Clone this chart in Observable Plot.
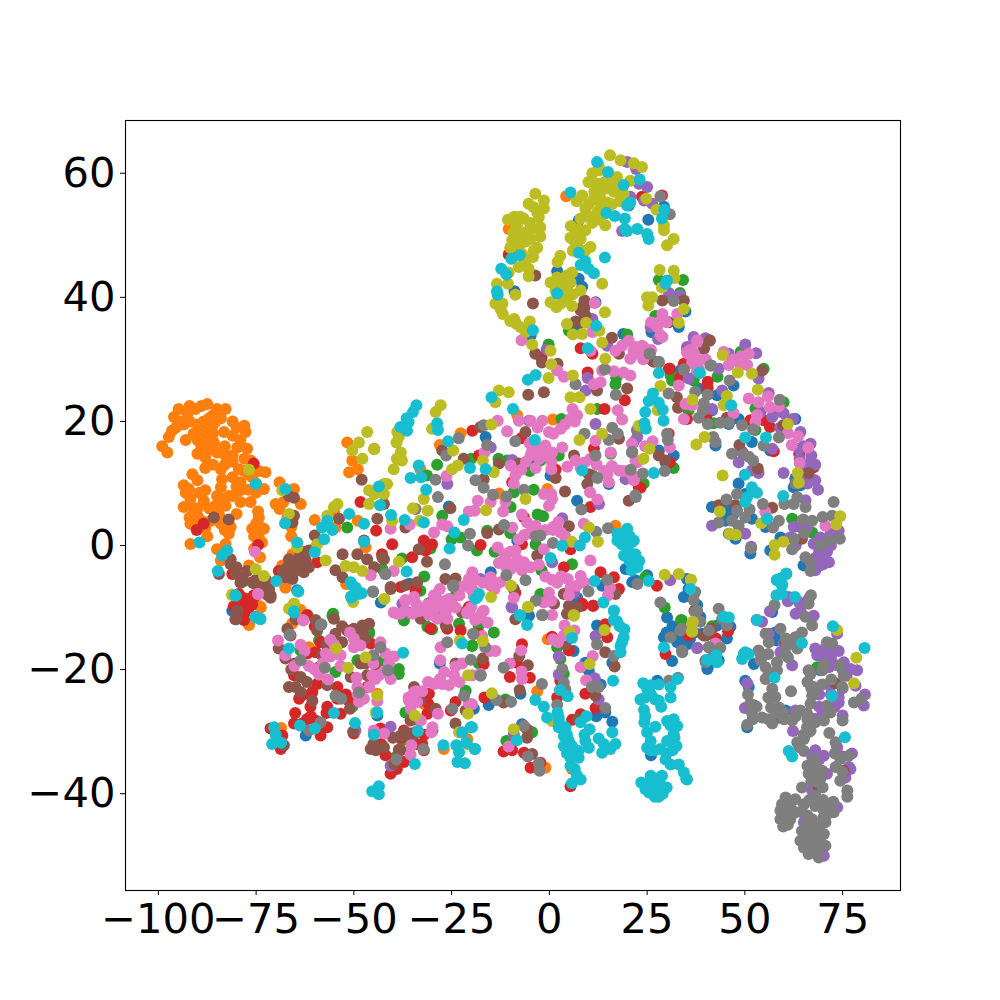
<!DOCTYPE html>
<html>
<head>
<meta charset="utf-8">
<script src="https://cdn.jsdelivr.net/npm/d3@7"></script>
<script src="https://cdn.jsdelivr.net/npm/@observablehq/plot@0.6"></script>
<style>html,body{margin:0;padding:0;background:#fff}svg{display:block}</style>
</head>
<body>
<div id="chart"></div>
<script>
const classNames = ["c0","c1","c2","c3","c4","c5","c6","c7","c8","c9"];
const palette = ["#1f77b4","#ff7f0e","#2ca02c","#d62728","#9467bd","#8c564b","#e377c2","#7f7f7f","#bcbd22","#17becf"];
const xTicks = [-100,-75,-50,-25,0,25,50,75];
const yTicks = [-40,-20,0,20,40,60];

const c0 = [[25.3,52.5],[7.5,52.4],[2,44.2],[7.5,43],[8.4,41.7],[-8.9,41],[11.8,39.2],[34.8,37.7],[33.1,35.2],[26.1,34.4],[29.3,54.6],[20.3,54.8],[18.9,34.1],[-4.8,33.8],[7.1,35.2],
[-4.8,13.4],[.3,11.3],[15.2,9.9],[7.1,7.2],[-8.2,.8],[19.5,-3.8],[21.2,-5.9],[13.5,-6.5],[7.1,-8.4],[-15,-4.3],[-36,-6.2],[-5.2,-11.3],[-25.7,6.3],[-16.3,17.5],
[-62.3,-30.6],[-28,-19],[-44,-27.4],[-19.3,-26.3],[-35.5,-6.2],
[-7,-28.8],[-15.5,-25.7],[-7.4,-23.9],[12.2,-12.9],[16.1,-28.4],[12,-27.5],[14.3,-26.9],[10.1,-20.2],[9.2,-18.9],[16.1,-18.9],[6.2,-17],[30.1,-11.6],[26,-33.8],[27.6,-21.8],[31.4,-18.6],[29.3,-14.8],[35.2,-15.9],[32.7,-15.6],[40.4,-19.9],[13.1,-22.4],
[33.5,28.2],[38.2,25.3],[42.9,24.2],[41.6,21.8],[47.1,25.8],[45.9,19.6],[48.4,20.4],[42.5,16.1],[51.8,16.7],[56.5,15.3],[31.8,14.5],[28,15.3],[29.7,13.4],[62.9,20.4],[62.9,10.8],[62.5,9.4],[64.2,9.7],[48.4,10],[50.1,8.3],[41.6,6.2],[45.4,5.4],[45.9,1.9],[47.6,1.1],[51.8,4.3],[51.4,-1.3],[55.3,3],[56.5,-.8],[65,-3.2],[59.1,1.3],[25,-4.8],[35.2,-5.4],[22,-5.6],
[57,-10.7],[57.8,-14],[58.2,-15.3],[52.3,-19.1],[54.8,-17.7],[51,-22.8],[50.1,-21.8],[50.6,-29.3],[52.4,-25.8],[58.7,-27.7],[60.4,-26.6],[68.9,-41.7],[69.3,-20.1],[40.5,-19.6],[45.4,-15],[46.3,-13.1],[42.9,-12.9],[39,-14.2],[37.8,-9.6],[38.6,-11.5],[34.4,-15.6],[34.4,-8.3],[35.6,-7],[43.3,-18.5],
[-64.5,-7.2],[-81.1,-10.5],[-43.1,-9.2],[44,6],[46,6],[47,5],[45,4],[30,-14],[31.5,-13],[33,-14.5],[36,-15],[37,-14]];

const c1 = [[-99,16],[-97.7,15],[-97.3,17.5],[-96,20.7],[-94.8,22],[-92.6,21.2],[-90.5,22],[-87.5,22.8],[-85,22],[-82.8,22],[-85.4,20],[-83.2,18.3],[-81,20],[-78,19.3],[-77.7,18.3],[-81,17.7],[-79.8,15.8],[-77.3,15.6],[-88,14.2],[-90,14.8],[-88.4,17],[-85.8,16.6],[-82.8,14.5],[-84,12.3],[-79.4,12.3],[-76.4,13.7],[-74.3,12],[-72.6,11.8],[-79,10.2],[-79,8.9],[-76.4,7],[-79,7],[-73,9.1],[-83.7,10.7],[-84,9.4],[-83.7,7.5],[-85.4,6.4],[-82.8,6.4],[-80,5.1],[-93.5,9.7],[-91.3,11.5],[-90,10.5],[-92.2,9.1],[-88,8.9],[-88.4,7.2],[-91.8,7.5],[-93.5,6.2],[-90,4.8],[-91.8,3.5],[-91.8,.25],[-88,2.9],[-84,3.5],[-82,1.9],[-82.8,.25],[-85,-.6],[-84,-2.4],[-74.3,4.5],[-73,2.7],[-76,2.7],[-74.3,1.3],[-74,-1.9],[-76.8,-3.2],[-93,17],[-93.5,19.5],[-90,19.5],[-94.8,20],[-88.4,20],[-87,20.5],[-90,17],[-86,18],[-92,20],[-88,12.5],[-81,13.5],[-77,11.5],[-75,10],[-90,6],[-86.5,4],[-75,3.5],[-82,8],
[-69,10.2],[-70,6.7],[-69,5.9],[-65.3,9.1],[-63.6,6.7],[-66,3],[-60,4.1],[-55,5.4],[-49,4],[-51.7,16.6],[-50.4,13.7],[-51.2,11.8],[-49,12.3],[-44.8,15.6],[-67.5,-6.7],[-76.8,-12.7],[-73.8,-10],[-68.3,-3.2],[-65.7,-1.4],[-54.7,2.9],[-52,-6.2],[-47,-.3],
[4.3,56.3],[-10.4,51],[-9.5,47.8],
[.9,20.3],[-8.2,21],[-22.7,18.1],[-28,16.2],[-33,12.3],[-12.9,8.4],[-.5,9.1],[16.9,3.2],
[-67.5,-6.8],[-76.8,-12.8],[-74,-9.8],[-63.6,-10.4],[-65.8,-12.6],[-68.6,-29.4],[-27,-32.8],[-32.2,-25.5],[-21,-31.2],[-44,-23.9],[-61.5,-16.4],
[-.4,-15.1],[-3.1,-23.5],[-1,-35.8],[5.8,-36],
[-96.5,18.5],[-95.5,19],[-92,22.5],[-89,22.5],[-86,21],[-84,20.5],[-91,18],[-88.5,18.5],[-86,19.5],[-83,16],[-80,19],[-79,17],[-85,15],[-87,15.5],[-89,16],[-81,14.5],[-78,14],[-83,13],[-86,13],[-78,12],[-76,11],[-81,11],[-80,9.5],[-77,9],[-75,8.5],[-81,8],[-85,8],[-84.5,5],[-81.5,3],[-83,2.5],[-87,6],[-89.5,8.5],[-93,8.5],[-91,6],[-92,4.5],[-89,4],[-87.5,1.5],[-83,-1.5],[-74,3],[-75.5,1.5],[-73.5,.5],[-75.5,-.5],[-74.5,5.5],[-68,7],[-67,4.5],[-66,1.5]];

const c2 = [[28,42.8],[34.2,42.8],[19.9,34],[-.2,32.4],[27.1,37],[33.4,40.7],[5,34.6],[17.1,27],[31,27.4],[37,27.1],
[-28.7,13],[16.9,26],[3.1,20.4],[12.2,22],[-1.6,4.7],[-27.4,4.8],[-22.7,1.3],[-18.5,-.8],[-37.7,-2.1],[-30.4,-.5],[-31.3,11.3],[-2.3,13.7],[2.4,14.5],[-9.1,8.6],[-9.9,6.2],[-10.8,13.7],[5.8,-3],[-3.5,.2],[-15.9,2.4],[11,11.3],[15.7,14.8],[-24,-8.1],[-33,-7.3],[-2.3,-7.8],
[-55.3,-11],[-46.1,-13.9],[-58.9,-15.3],[-63.6,-16.9],[-54.7,-20.4],[-49.1,-18.5],[-38.5,-19.9],[-38.5,-20.7],[-42.3,-18.5],[-50.4,-26],[-36.8,-26.9],[-31.2,-13.1],[-23.1,-12.6],[-19.7,-16.1],[-29.9,-29.8],[-37.2,-12.1],[-21.4,-23.4],[-39.3,-34.1],[-37.6,-31.4],[-59.4,-29.5],[-18,-19],[-28.7,-10.2],[-78.8,-5.9],
[-14.2,-14],[-19.8,-16.2],[-11,-31.5],[33.7,-12],[2,-16.4],[2.8,-18.3],[-11.2,-24.8],[-18.1,-12.9],[3.7,-20.7],[-4.4,-30.1],[29.5,-10],
[31.4,26.6],[36.9,26.6],[43,27.2],[48.9,31.2],[52.7,22.1],[59.9,23.1],[52.7,18.6],[31.8,12.5],[42,19.7],[24.1,10],[62.1,4.3],[67.2,2.1],[24.5,-5.1],[54.8,28.5],[35.6,21.8],
[33.9,-12.1],[41.6,-13],[68.5,-19.6],
[-51.7,2.9],[-78.5,-5.9],[-42.7,-3.8],[-65.3,-4.3],[-55.5,-11.3],[-46.1,-14.2],[-5,12],[-13,14],[-20,14],[-3,5],[-4,9],[-10,2],[-25,1],[-14,-1],[-32,-5],[-2,-4],[-30,-13.5]];

const c3 = [[-10.4,46.9],[8,31.8],[11,30.9],[28.8,56.4],[23.7,56.2],[30.6,28.5],[9.8,27.9],[33.4,27],[-2,30.3],
[19.3,23.4],[14.1,22],[-19.7,18.5],[-7.2,17.3],[11.4,15.6],[-18,14.5],[1.6,12.2],[-9.5,10.2],[10.5,6.2],[22.9,9.4],[-40.2,.2],[-32.1,.8],[-30,.2],[-31.7,-.8],[-35.1,-1.9],[-17.6,.1],[-6.5,4.5],[-7,.2],[5.4,-.6],[-34.2,-7.3],[-19.7,-7.2],[-8.7,-7.6],[3.7,-3.5],[13.1,-4.3],[8.4,-9.4],[11.2,-9.7],[17.8,-7],[16.5,-5.1],[-42.8,-1.4],
[-79.4,-9.6],[-77.7,-10.4],[-80.7,-9.8],[-75.6,-8],[-78.1,-12],[-61.9,-11.2],[-58.5,-15.6],[-66.2,-14.5],[-59.8,-17.2],[-61.9,-17.4],[-65.3,-20.9],[-64,-24.7],[-61.1,-26],[-60.6,-23.6],[-59.4,-22.3],[-56.8,-26],[-54.2,-22.8],[-54.2,-24.7],[-53.4,-27.1],[-51.3,-25],[-45.7,-15.8],[-51.7,-13.7],[-65.3,-28.7],[-63.2,-28.7],[-59.8,-28.2],[-56.8,-29.3],[-58.5,-30.6],[-68.3,-30.6],[-71.3,-29.5],[-68.7,-32.8],[-40.6,-36.8],[-41.9,-33.8],[-37.2,-34.9],[-32.5,-32],[-37.2,-29.8],[-43.2,-29.5],[-50,-30.3],[-35.5,-30.3],[-30.8,-23.9],[-31.2,-27.1],[-25.2,-26.6],[-22.7,-13.7],[-30.4,-13.4],[-26.1,-13.4],[-20.6,-9.9],[-24,-25.2],[-34.2,-7],[-38,-6.7],[-18,-14.2],[-46.6,-22.8],[-32.1,-33],
[-7,-15.9],[-10.1,-21.2],[-5,-21.3],[-16.6,-24.5],[-8.3,-18.9],[5,-16.9],[2.8,-21.8],[9.2,-23.9],[11.8,-26.2],[14.3,-12.7],[14.8,-14.8],[.7,-14.7],[8,-27.2],[5.8,-28.1],[5.4,-38.8],[-11.7,-33.2],[-9.5,-33],[-6.5,-33.4],[-4.8,-35.8],[-2.3,-35],[29.7,-17.5],[-16.8,-19.1],[11.2,-9.7],[8.4,-9.7],[2,-24.5],
[30.8,28.5],[40.5,26.4],[40.5,25.4],[40.2,21],[51.4,20.2],[54.8,20.2],[56.4,19.1],[57.4,15.2],[63.9,14.8],[67.6,12.6],[30.5,18],[30.8,13.4],[23.3,9.3],[27.5,-6.5],[35.2,20.4],[34.4,29.3],
[45.7,-13.8],[42.6,-15],[35.6,-14.5],
[-75.6,13.2],[-88.4,3.5],[-90.2,2.5],[-74.5,.1],[-48.3,7],[-44.3,2.4],[-79.4,-7.8],[-76.8,-10],[-79,-8.9],[-75.1,-8.1],[-81.1,-4.6],[-69.2,-4.1],[-59.4,-2.7],
[-78,-11],[-79,-11],[-76,-9.5],[-78,-8.5],[-60,-13],[-63,-24],[-61,-27.5],[-57,-27],[-52,-24],[-62,-28],[-65,-27],[-43,-32],[-39,-36],[-38,-31],[-34,-32],[-32,-30.5],[-34,-28],[-31,-25.5]];

const c4 = [[19.9,61.8],[22.2,60.7],[25,57.8],[22.9,58.3],[24.2,55.6],[26.3,55.1],[20.7,56.2],[18.6,50.7],[11,36.5],[30.6,40.7],[33.4,40.3],[27.8,33.3],[25.9,35.2],[37,33.2],[39.8,33.2],[35.2,31.7],[-.7,31.6],[14.8,32.2],[9.8,27],[45.9,30.9],
[-9.5,13.8],[-26.1,9.9],[-15,15.8],[19.5,10.7],[11.8,19.6],[3.3,4.4],[.7,-2.7],[-17.6,-5.4],[6.3,-7.6],[-9.5,-10],[-36.4,-10.8],[9.3,25],[12.7,6.7],[22.5,17.5],[-5.2,20.1],
[-40.6,-29.2],[-40.6,-35.5],[-37.6,-9.4],[-36.3,-10.7],[-49.6,-29.8],
[-9.7,-9.9],[2.4,-17.9],[2.4,-20.8],[11.6,-21.4],[12.6,-24.8],[-9.1,-30.4],[11.8,-14.6],[37.8,-16.5],
[35.6,26.9],[36.9,33.6],[39.9,33.4],[35.2,32],[43.3,28.5],[50.1,32.4],[52.9,31],[53.5,26.9],[41.6,22],[44.2,25],[56.1,24.6],[59.9,21.3],[57,20.7],[62.3,20.4],[64.2,18.3],[66.8,16.4],[63.8,15.6],[66.8,13.4],[65.5,12.1],[68,10.5],[68.7,9],[59.9,11.7],[48.4,13.4],[49.3,15.1],[53.5,11.7],[51.8,12.1],[41.6,3.2],[50.1,1.9],[51.6,-.2],[62.5,3],[61.6,1.3],[64.2,3],[67.6,.3],[69.3,1.3],[71.9,1.9],[74,2.4],[70.2,-1.9],[71.5,-2.7],[69.3,-3.2],[65.5,7.3],[21.6,16.7],[22.4,18.6],[57,15.6],[68,-4],[30.9,-5.6],
[56.4,-10.6],[54.4,-12.3],[56.1,-14.2],[61.2,-8.3],[63.8,-9.1],[64.2,-10.5],[66.3,-8.6],[67.6,-11.3],[73.6,-14.2],[68,-16.6],[73.2,-16.9],[70.6,-16.6],[68.5,-17.7],[59.1,-17.2],[62.1,-19.3],[78.7,-20.1],[75.3,-18.8],[77,-19.9],[71.5,-19.6],[73.6,-19.3],[78.3,-22.6],[80.7,-24],[80.4,-25.8],[67.6,-22.8],[74,-24.4],[74,-25.3],[71.9,-22.6],[50.6,-22.2],[62.9,-26.6],[50,-26.2],[67.6,-27.9],[69.8,-27.1],[62.3,-29.9],[66.8,-29.8],[75,-27.4],[73.6,-32.5],[77.4,-33.5],[67.2,-34.1],[70.2,-33.9],[76.6,-35.7],[75.7,-37.4],[71,-36.8],[67.2,-39.5],[73.6,-42.2],[65.1,-44.6],[70.2,-50],[37.8,-16.5],[42,-17.2],[60,-15.8],
[69,-1],[70,-3],[71,-1],[68,-2],[66,3],[63,0],[72,0],[54,21.5],[58,21.5],[59,19],[66,11],[65,16],[67,14.5],[68,13],[64,14],[66,10],[74,-17],[72,-18],[75,-20],[70,-18],[76,-21],[75,-23],[72,-24],[69,-24],[69,-26],[73,-26],[53,-12],[61,-9],[63,-11],[68,-33],[69,-34.5],[75,-34],[77,-36]];

const c5 = [[-3.6,43.5],[-4.2,39],[9,39.5],[9,38.4],[8,37.9],[9.2,37.1],[6.7,36.1],[34.4,39.5],[30.6,36],[28.9,39.5],[16,33.5],[41,33],[-3.6,30.9],[-1.9,29.5],[2.1,29.3],[26.3,29.8],[17.8,30.9],[39.5,31.7],
[-5.4,24.3],[-1.4,24.7],[12.2,25],[19.9,25.3],[-17.6,19.1],[-6.1,18.3],[-27.4,15.3],[17.8,17.2],[6.3,14.5],[10.1,11.5],[9.7,9.9],[-12.9,13.2],[-7.8,13.2],[-21.9,14],[-16.8,10.7],[1.6,10.9],[4,8.7],[20.3,7.2],[-25.3,6],[-36.8,2.9],[-12.9,2.6],[-15.9,2],[-31.3,-2.6],[-33.4,-.6],[-33.8,-5.9],[-40.6,-7],[-24,-5.3],[-26.6,-5.4],[5,3.1],[-3.1,-1.6],[3.7,-7.8],[7.1,-10],[16.9,-7.8],[-30.8,-9.3],[-22.3,-10.8],[1.2,-9.4],[-42.3,-2.2],[-9.1,-7],
[-75.6,-6.1],[-71.3,-8],[-79.8,-10.7],[-80.3,-11.9],[-67,-13.4],[-69.2,-16.6],[-59.8,-12],[-59.4,-13.7],[-55.1,-11.8],[-54.7,-14.2],[-67.5,-18.2],[-50,-13.4],[-47.8,-12.9],[-46.1,-12.6],[-47.8,-13.9],[-53,-15.6],[-58.1,-17.7],[-58.9,-19.6],[-63.6,-21.2],[-66.6,-22.8],[-64.9,-22.8],[-63.6,-23.6],[-60.6,-25],[-56.8,-22.5],[-48.3,-19],[-46.6,-20.9],[-44.4,-19.3],[-50.8,-21.2],[-51,-26.3],[-50.2,-30],[-45.7,-32.8],[-44.4,-33],[-42.3,-32.5],[-38.5,-32.9],[-39.7,-35.2],[-38,-30.6],[-35,-30.9],[-35.5,-28.2],[-29.1,-26.3],[-67.9,-32.2],[-34.6,-22.8],[-30.8,-9.4],[-32.9,-11.8],[-26.5,-12.9],[-24,-19],[-21.4,-26.6],[-24,-28.7],[-40.6,-6.7],[-36.8,-6.4],[-72.2,-6.9],
[-7.6,-23.3],[-5.5,-19.3],[-7.7,-17.8],[-17,-18.2],[-11.7,-25.3],[4.1,-15.9],[7.3,-28],[11.8,-24.2],[16.7,-19.5],[14.3,-17.2],[-4.4,-33.6],[-5.7,-31],[-5.7,-29.6],[40,-14.5],[5,-9.7],[4.5,-11],[-8.7,-11.9],[37.1,-10.5],
[41,33.1],[39.5,31.7],[47.6,29.9],[54.4,28.2],[32.6,23.9],[32.9,22.2],[45.4,20.6],[48.6,16.2],[53.3,12.4],[66.3,11.7],[59.8,19.4],[28,14.5],[29.7,13.7],[43.3,6.5],[47.6,6.5],[57,6.1],[64.6,1.1],[26.7,29.6],
[73.2,-22.2],[68.9,-38.9],[60.4,-15.6],[37.3,-10.5],[41.6,-13.4],[39.5,-14.5],[75.3,-36.3],
[-85.8,4.5],[-82,4.2],[-48,10.6],[-66.6,8],[-65.3,7.7],[-65.3,4.8],[-65.7,3.7],[-60,1.6],[-81.5,-2.2],[-81.5,-3],[-80.2,-4.6],[-84.5,-4.6],[-78.5,-5.1],[-77.3,-4.1],[-76,-5.9],[-73.4,-6.2],[-71.7,-7],[-71.3,-8.4],[-68.3,-4.1],[-66.6,-2.2],[-64,-1.9],[-61.5,-.8],[-62.3,-2.4],[-64.5,-3.3],[-67.5,-5.1],[-65.7,-5.4],[-62.8,-4.3],[-53.8,4.3],[-52.9,-1.4],[-54.7,-4],[-49.1,-1.4],[-46.6,-2.2],[-52.9,-5.1],[-79.8,-10.5],[-80.1,-11.9],[-44,4.3],[-42.3,6.7],[-47.4,.8],[-42.7,-1.9],[-44.8,-3.5],[-64.9,-11.9],
[-66,-3],[-65,-4],[-63,-3],[-61.5,-3.5],[-63,-1],[-60,-.5],[-67,-3.5],[-80,-3.5],[-79,-6],[-75,-5.5],[-72.5,-5.5],[-72,-8],[-66,-20],[-65,-19],[-62,-22],[-57,-16],[-53,-13],[-49,-14.5],[-47,-15],[-47,-19],[-45,-18],[-45,-32],[-38,-33],[-37,-30],[-40,-31],[-33,-25],[-34,-30],[8.5,38.5],[8,36],[9,36.5]];

const c6 = [[11.6,39.1],[-7.1,33.1],[20.3,33],[28.9,37.3],[32.7,37.3],[27.6,35.2],[28.9,33.6],[11,34.4],[10.5,31.4],[16.9,31.4],[18.6,32.2],[21.6,31.4],[23.7,32.2],[20.7,30.1],[35.2,31.1],[37.8,32.8],[36.5,29.5],[37.8,28.2],[44.6,31.1],[16.5,28.1],[19,27.9],[20.7,27.4],[13.5,28.2],[2,28.2],[3.7,27.2],
[-7.8,20.1],[-4.8,20.1],[-1.8,20.1],[2.9,18.8],[5.4,20.4],[7.1,21],[5.9,22],[13.1,26.3],[11.4,26],[18.6,20.3],[17.5,21.8],[-10.8,18.4],[-13.2,20.1],[-.1,18.3],[-1,16.1],[-4.4,15.3],[-2.7,15.8],[.7,15],[3.3,15.8],[-4.8,14.5],[11.8,16.9],[15.7,15],[6.7,13.7],[9,13.4],[4.6,12.7],[12.1,13],[-3.5,12.5],[.5,12.3],[22.5,13.4],[17.8,12.1],[14.8,11.5],[15.2,10.2],[10.4,8.6],[12.3,7.4],[-7.2,12.2],[-9.9,12.9],[-8.7,11.3],[-9.1,10],[-26.3,11.2],[-16.6,15],[-18.3,7.2],[-19.1,5.6],[-20.6,5.5],[-15,7],[-11.8,5.5],[-11.2,7],[-1.4,8.3],[.5,8.3],[-.1,6.4],[.7,7.5],[8.8,3.5],[2.3,3.8],[-5.7,3.7],[-3.5,3.2],[-6.4,1.7],[-1.4,-.6],[2.9,2.1],[-27.4,3.4],[-26.1,3.1],[-35.7,3.4],[-29.5,2.1],[-40.6,2.7],[-9.5,2.9],[-13.2,-.3],[-11.5,-1.4],[-8.7,-.8],[-8.2,-2.2],[-12.9,-2.8],[-9.9,-3.8],[-6.5,-2.7],[-4.8,-3.5],[-2.7,-3.1],[10.5,-2.4],[.7,-5.5],[4.7,-5.4],[8,-4.9],[5.4,-6.8],[15.5,-6.8],[-19.7,-4.3],[-20.6,-5.4],[-15,-5.1],[-15,-6.5],[-12.5,-5.9],[-21.4,-6.5],[-.1,-7.6],[.5,-8.9],[-1.4,-9.2],[-9.1,-8.4],[-29.1,-8.1],[-29.5,-9.4],[-26.6,-9.3],[-33.4,-10.6],[-34.7,-8.4],[-36.8,-8.9],[-39.8,-4.1],[-39.8,-10.8],[-38.1,-11],[-21,-10.9],[-16.8,-10.5],[-26.6,-10.8],[-17.6,-11.6],
[-74.5,-7.8],[-63,-12],[-69.4,-15.3],[-63.6,-16],[-62.6,-17],[-67.5,-17.7],[-65.2,-19.4],[-61.5,-19.4],[-58.9,-20.8],[-56.6,-21.6],[-57.2,-17.4],[-56,-17.9],[-53.4,-17.7],[-53.4,-19.4],[-56,-15.2],[-51,-14],[-50,-16.4],[-48.3,-16.1],[-41.9,-17.4],[-39.7,-17.9],[-43.2,-15.6],[-45.3,-20.9],[-43.6,-20.9],[-40.6,-21.5],[-42.3,-20.4],[-49.3,-21.3],[-49.1,-22.8],[-46.1,-22.8],[-47.4,-24.7],[-48.7,-25.2],[-44,-25.1],[-44.9,-29.8],[-42.3,-30.3],[-35.3,-32.2],[-35.5,-33.7],[-35.9,-25],[-33.8,-25.2],[-34.6,-23.6],[-32.5,-23.5],[-35.5,-26.3],[-32.9,-28.2],[-29.9,-29.3],[-30.2,-30.1],[-28.5,-27.1],[-29.5,-22.3],[-27.4,-22.3],[-25.7,-22.5],[-26.9,-20.4],[-24.4,-20.9],[-22.3,-19],[-20.6,-25.5],[-19.7,-20.9],[-27.8,-16.4],[-27.9,-18.5],[-33.3,-10.5],[-36.8,-8.8],[-34.6,-8.3],[-38.9,-11],[-30.8,-11.2],[-28.7,-11.8],[-26.1,-11.8],[-29.5,-8],[-28.7,-9.4],[-25.7,-8.6],[-22.3,-6.6],[-21,-10.7],[-19.3,-8.3],[-26.5,-10.7],
[-17,-10.6],[-18.5,-11.6],[-15.8,-12.4],[-15.1,-17],[-17.2,-14.6],[-13.8,-17],[-17.6,-20.7],[-19.8,-25.6],[-10.1,-19],[-7.2,-16.9],[-7.1,-20.3],[-7,-21.5],[-10.4,-32.4],[.9,-15.1],[3.9,-12.9],[6.4,-13.7],[3.7,-14.5],[2.2,-15.6],[8,-19.6],[11.1,-17.8],[9.4,-21.7],[.7,-11.2],
[37.8,33.1],[35.4,30.9],[36.9,29.3],[38.2,28.5],[44.6,31.2],[45.9,29.1],[48.9,29.1],[51,30.9],[50.6,29.1],[33.1,25.8],[34.8,22.8],[36.5,22.6],[34.4,20.4],[47.1,21.3],[51,23.7],[53.5,23.1],[55.9,24],[56.4,22.3],[58.7,22.4],[53.1,21],[52.7,19.9],[61,18.1],[63.6,17.6],[62,16.2],[66.2,15.8],[64,13.3],[30.8,15.8],[26.4,16.8],[24.5,16],[22,13.7],[21.6,10.5],[21.1,16.4],[22.4,30.9],[24.1,32],[28.4,33.9],[21.6,31.5],[55.2,5.4],[70.6,3.2],
[42.5,-15.8],
[-75.3,-1],[-74.5,-7.8],[-62.9,-12.1],[-45.7,-4.8],
[-3,19],[1,18],[4,19.5],[6.5,20],[-2.5,14],[-1,14.5],[.5,13.5],[-6,13.5],[-5,16.5],[8,12.5],[10.5,14],[14,12],[16,12.8],[19,12],[21,11.5],[-7,5],[-5,2],[-7.8,1],[-3.5,2],[-1,2.5],[1,2.5],[1,3],[4,1.5],[-11,-2.5],[-10,-1],[-9,-3],[-7,-4],[-11,-3.5],[-20,-7],[-17,-6],[-14,-7],[-19,-5.5],[7,-6.5],[9,-6],[5,-8],[-29,-10],[-37,-10.5],[-35,-11],[-31,-9.5],[-24,-10],[-23,-8],[-28,-7],[-20,-10],[-19,-12],[-58,-19],[-60,-20],[-55,-16],[-50,-15],[-45,-19],[-44.5,-21.5],[-41,-19],[-49,-24],[-36,-24.5],[-34,-23.5],[-31,-22],[-28,-21.5],[-24,-19.5],[-23,-22],[40,30],[37,31],[36,31.5],[38,30],[47,30],[49,30.5],[24,30],[22,32],[26,31.5],[26,36],[28,36],[30,36],[2,-6],[-1,-5],[3,-5],[15,-8],[-34,-9.5],[-33,-10],[-27,-9],[-25,-9.5]];

const c7 = [[28.4,56.3],[30.8,53.4],[31.8,39.4],[25.7,30.9],[28,29.5],[14.2,28.4],[34.4,28.3],[41.4,29],
[6.7,26],[17,24.3],[-16.8,19.4],[-8.7,16.8],[-15.9,16.2],[-23.2,17.3],[-26.4,14.5],[9,18],[15.2,17],[16.1,19],[17.5,18],[11.8,14.5],[21.2,15.1],[22.5,18.5],[-29.1,10.6],[-18.9,10.5],[-16.8,9.3],[-28.5,7.8],[-14.4,8.2],[-11,7.9],[-6.5,9],[12.3,10.9],[20.8,12.2],[22.1,7.8],[8.2,5.8],[-34.2,5.9],[-11.6,3.3],[-20.3,1.9],[-20.8,0],[-3.5,1.5],[-2.3,1.6],[.9,.4],[12,2.2],[15,2.8],[-26.7,-3],[-41.9,-4.6],[-11,-4.8],[-6.1,-5.6],[-24.6,-6.6],[10,-7.4],[14.8,-5.5],[-3.5,-8.9],[-1.7,-11.2],[22.5,-6.2],
[-58.3,-12.7],[-66.4,-14.4],[-63.6,-18.5],[-57.4,-19.7],[-54.7,-24.2],[-53.2,-24.7],[-48.7,-23.7],[-45,-17.7],[-43.2,-16.4],[-41.3,-20.1],[-58.5,-28.5],[-61.5,-29.8],[-32.2,-32.8],[-39.1,-34.5],[-45.1,-7.5],[-24.6,-6.4],[-26.1,-15.6],[-19.5,-14.2],[-20.1,-18.4],[-17.6,-20.9],[-21.8,-24.2],[-24.8,-26.3],
[32.9,-21.3],[30.6,-21.8],[-1.9,-22.3],[2,-25.7],[3.3,-19.9],[3.7,-22.1],[4.1,-23.2],[10.9,-22.8],[12.6,-22.8],[14.3,-26.2],[16.5,-17.8],[12.2,-15.9],[-11.7,-19.7],[-17.6,-21],[-13.5,-24.9],[-9.8,-25.2],[-6.5,-29.1],[-5.5,-34],[-2.7,-35.1],[-2.5,-36.3],[31,-14.8],[34,-17.2],[-1.9,-11.2],[-19.4,-14.3],[28.4,-9.2],[37.8,-10.5],[40,-18.8],[40.8,-16.4],[-16.4,-16.4],[33.5,-13.7],
[34.4,28.4],[41.2,29],[46.1,26.6],[37.3,24.8],[40.5,24.3],[39.5,22.9],[39.3,21.8],[38.2,20.6],[40.5,19.6],[43.7,19.8],[45.9,19.8],[49.3,19.4],[52.1,18.7],[58.9,23.5],[41.9,17.5],[42.5,16.7],[46.7,14.8],[49.7,14.7],[51,14.3],[52.1,13.7],[54.8,16.1],[58.7,17.4],[62.9,10],[30.1,18],[30.3,17],[30.5,24.5],[28,29.6],[25.6,30.9],[21.1,15],[23.9,11.6],[29.5,12],[22,8.1],[45.3,7.4],[48,8.3],[54.6,6.7],[48,5.6],[51.2,5.8],[50.1,4.5],[46.7,4],[43.3,3.7],[48.4,3.2],[60.1,6.7],[62.5,6.7],[63.4,7.8],[65.5,6.2],[72.7,7],[72.3,4.8],[69.9,4.6],[64.9,4.2],[67.2,4],[58.7,4],[57.2,2.9],[65.2,2],[74.3,1.1],[71.5,.8],[62.5,1.1],[62.1,-.6],[69.3,0],[65.5,-1.9],[66.8,-2.7],[66.8,-4.1],[51.6,-.5],
[43.3,-10.2],[37.3,-7.5],[36.9,-8.8],[37.3,-10.7],[38.6,-12.3],[40.8,-13.7],[33.9,-13.4],[33.9,-16.9],[44.2,-11.8],[45.4,-12.9],[43.7,-16.5],[40.8,-16.4],[39.9,-18.5],[66.9,-8],[66.3,-9.4],[65.5,-11.5],[67.2,-12.9],[64.6,-14],[62.9,-14.8],[57.6,-9.6],[59.1,-13.4],[55.3,-14.2],[56.1,-15.6],[60.8,-16.1],[60.4,-17.5],[63.4,-16.6],[53.5,-16.9],[54,-18.5],[55.3,-19.6],[58.2,-18.8],[58.2,-20.1],[55.3,-21.5],[57,-23.1],[57.8,-24.4],[50.8,-24],[61.8,-23.5],[67.2,-24.2],[66.8,-25.5],[56.7,-26.1],[58.7,-26.1],[51.4,-25.5],[51.8,-26.9],[50.6,-28.9],[54.4,-27.7],[57,-28.7],[59.9,-26.9],[62.1,-28.2],[64.2,-26.6],[65.9,-27.1],[66.3,-20.1],[66.8,-20.7],[70.2,-19.1],[69.8,-20.1],[72.3,-15.8],[71,-15.6],[74.3,-19.4],[75.3,-21],[72.1,-21.6],[74.9,-22.8],[69.8,-22.4],[77.9,-25.3],[79.8,-24.7],[67.6,-23.9],[71,-25.8],[71.9,-26.9],[70.2,-28.2],[65.9,-29.3],[71.6,-30.2],[65.1,-31.2],[63.4,-31.7],[65.1,-33.1],[73.2,-31.7],[75,-28.2],[74.4,-34.4],[76.6,-33.9],[73.2,-35.7],[74.4,-37.9],[67.9,-34.4],[67.2,-36.3],[69.8,-36.3],[66.3,-36.8],[69.3,-37.6],[64.6,-39],[69.9,-39],[68,-40.3],[76.2,-39.5],[76.2,-40.5],[72.6,-41.3],[60.4,-40.6],[62.9,-40.9],[59.5,-41.7],[59.1,-42.7],[61.6,-42.2],[59.1,-44.1],[61.6,-44.1],[59.8,-45.3],[65.1,-41.7],[64.6,-43],[69.3,-41.9],[71,-43.3],[72.7,-43],[70.6,-44.6],[67.2,-44.1],[65.9,-44.9],[64.6,-46],[68.9,-45.4],[64.2,-47.6],[66.3,-46.8],[68.5,-47],[70.2,-46.5],[70.6,-48.4],[66.3,-49.7],[68.9,-50.3],[65.1,-48.7],[68.5,-48.7],[67.2,-48.1],
[-45.1,-7.4],[-58.5,-12.8],[-42,-4.6],[-66.4,-14.4],
[66,-46],[67,-47],[69,-46],[65,-47.5],[66,-48.5],[68,-49],[69.5,-48],[67.5,-45.5],[66,-43.5],[68,-42],[70,-42.5],[63,-43],[60.5,-43.5],[60,-42],[61,-41],[61,-45],[67,-38],[68,-38],[66,-35.5],[68,-35.5],[70,-41],[66.5,-41],[70,-44],[72,-42],[56,-24.5],[56,-21],[54,-17.5],[56,-17.5],[60.5,-15],[62,-15.5],[61,-18],[53,-26],[52,-28],[56,-28],[58,-27],[60,-28],[63,-27.5],[66,-28],[68,-28.5],[66.5,-30],[65,-30.5],[66,-22],[67,-23],[64,-32.5],[73,-33.5],[75,-36.5]];

const c8 = [[15.5,62.9],[18.2,62.1],[12.6,61.3],[11,60],[10,58.6],[12.2,58.3],[15.2,59.4],[17.3,59.4],[21.6,61.6],[23.7,61],[20.7,58.8],[14.3,57.5],[16.5,57],[19,56.7],[8.4,56.4],[11.4,55.9],[9.2,54.3],[12.2,53.7],[14.8,55.3],[8,52.7],[14.3,51.6],[6.7,50.8],[9.2,50.8],[5.4,49.6],[8,49.4],[7.1,48.6],[10.5,48.1],[9.2,47.5],[2.8,46.7],[2.1,45.7],
[-3.6,56.7],[-5.3,55.1],[-1.4,55.6],[-1.4,54.3],[-3.1,53.7],[-2.7,52.9],[-6.6,52.7],[-10.6,52.5],[-8.3,51.6],[-2.3,51.3],[-9.1,50.5],[-6.1,50.5],[-2.3,49.8],[-9.5,49.2],[-4.8,49.4],[-7.4,48.6],[-3.1,48],[-7,47],[-4.2,46.5],[-7.8,44.9],[-5.3,44.6],[-5.3,43.4],
[-10.4,44],[-13.4,42.2],[-10.6,42.2],[-8.7,40.4],[-13.8,39],[-12.5,38.1],[-11.9,37.3],[-10,36.2],[-7.4,35.2],[-6.1,34.4],[-5,36.1],[-4.4,32.4],[.3,31.4],[.5,29.2],[14.3,30.1],[6,27.4],[-.2,27],
[2,43.2],[.3,42.4],[3.7,42.7],[5.8,44],[5.4,42.4],[1.6,41.1],[4.5,41.4],[8,41.1],[.3,39.2],[1.8,38.4],[4.1,39.7],[5.8,38.6],[13.5,42.2],[14.2,37.6],[4.5,35.7],[9.4,35.9],[6,34],[8.4,34.1],[12.8,34.6],[13.5,32.7],
[24.8,55.9],[27.4,54.1],[29.3,51.6],[29.3,50.8],[31.8,49.4],[30.1,48.4],[28.2,44.4],[31.8,44.3],[28.8,41.6],[32,43.1],[26.3,40],[25,40],[25.3,38.7],[34.4,38.1],[33.1,35.9],
[-12.9,25],[-10.4,24.7],[-13.8,23.1],[-29.1,21.5],[-27.8,22.6],[-30,18.8],[-38.9,18.3],[-39.1,16.6],[-38,15],[-37.7,13.7],[-24.6,15.3],[-39.8,12.3],[-41.5,9.9],[-42.3,8.3],[-23.4,12.9],[-24.9,12.3],[-17,13.7],[-14.2,11.8],[-32.1,7.5],[-34.9,6],[-31.1,5.6],[-33.1,4],[-40.2,4],[-16.2,5.7],[-6.1,7.5],[-38.5,-2.6],[-42.2,-8.6],[-9.8,-6.5],[-14.9,-8.3],[10.1,2.9],[12.4,.6],[5.7,.6],[-5.4,-9.9],[6.3,-11.3],[5.4,23.9],[7.7,23.9],[10.5,22],[7.7,17],[13.5,18],[-14.8,19.5],[22.9,19.3],
[-65.3,-9.4],[-66.6,-10.2],[-81.1,-7.9],[-42.2,-8.6],[-50.2,-9.1],[-54.5,-16.6],[-47,-18],[-51.5,-19.7],[-44,-24.2],[-34.4,-27.4],[-20.8,-20.9],[-20.8,-27.1],[-44.4,-26.9],[-22.9,-15.3],[-21,-32],[-23.1,-30.1],
[-17,-15.4],[-14.7,-23.8],[-9.1,-29.6],[-5.5,-9.9],[.7,-28.3],[5.2,-13.9],[6.2,-11.2],[14.1,-13.6],[10.3,-19.1],[36.5,-12.6],[36.5,-13.9],
[44.3,30.7],[48.2,27.9],[51.8,27.7],[36.6,23.5],[45.4,24.1],[44.6,22.6],[28.4,25.7],[53.3,25.1],[61,19.6],[39.7,17.5],[37.6,16.3],[25.6,15.6],[24.1,14],[44.3,11.3],[63.5,11.7],[63.8,10.1],[43.6,5.5],[46.1,1.9],[47.7,1.7],[54.2,3.6],[73.4,3.4],[74.4,4.7],[59.8,.6],[57.6,.1],[57.6,-1.5],[29.5,-4.7],[33.1,-4.6],[36.2,-5.5],[27.7,21.8],
[73.6,-13.6],[78.5,-18.1],[77.9,-22.2],[36.2,-5.5],[36.7,-12.3],[36.5,-13.8],
[-76.8,12.2],[-68.3,8.9],[-66.6,5.1],[-64.5,-.3],[-59.4,.2],[-57.2,-2.4],[-75.1,-3.8],[-73,-4.9],[-66.2,-10.2],[-65.3,-9.4],[-81.1,-8],[-56.8,4.8],[-55.1,6.2],[-54.2,6.7],[-52.1,-3.3],[-50,-3.5],[-47.8,-4.1],[-50.4,15.3],[-48.7,16.6],[-46.6,18.3],[-44.8,15.5],[-47.8,14],[-42.3,9.9],[-46.1,8.9],[-46.1,6.7],[-44.8,8.3],[-43.1,8.9],
[13,60.5],[14,58.5],[16,58],[18,58],[11.5,57],[13,56],[10,55],[13,55],[16,55],[18,55.5],[7,55.5],[10,53],[11,52],[13,52.5],[5.5,51.5],[7.5,51],[6.5,49],[8.5,47.5],[6,47.5],[-4,54.5],[-5,52],[-7.5,53],[-9,53],[-4.5,51],[-6,49],[-8,50],[-10,48],[-4,47.5],[-6,46],[3,42],[2,42.5],[4.5,43.5],[3,40.5],[6,40.5],[3,39],[-12,39],[-9,36.5],[-8.5,35.8],[-39,14],[-38.5,17.5]];

const c9 = [[12.2,61.8],[15,60.2],[19,58.1],[23.1,59],[5.4,56.9],[19.9,54.8],[20.7,55.3],[14.6,53.6],[16.7,53.1],[19.3,52.7],[29.4,54.1],[28.8,52.7],[19.3,51],[19.9,50.7],[22.5,51],[25,50.2],[25.4,49.4],[14.2,46.4],[7.5,47.2],[9.2,45.8],[8,45.2],[11.4,43.9],[10,44.6],[-7.6,46.8],[-9.7,46.2],[-12.3,44.6],[-11,43.7],[-13.4,41],[-13.2,40.4],[2,40.6],[30.1,42.7],[29.7,42.2],[12,35.4],[-4.2,34.7],[9.8,31.8],[28,27.8],[38.5,27.8],[-3.5,27.5],[-5.5,26.7],
[-34,22.6],[-34.9,21.5],[-36,19.9],[-38.1,19.1],[-36.4,18.5],[-28.7,19.7],[-28.5,18.6],[-25.9,16.8],[-14.8,23.9],[-9.3,22],[-3.7,17],[-33.4,12.9],[-35.5,10.9],[-32.8,11],[-31.5,9],[-20.3,12.5],[-16.3,12.3],[-40.5,4.9],[-37,4.1],[-32.1,3.7],[-21.9,4.1],[-24.3,2.1],[-25.5,-.5],[-36.5,-4.2],[8.4,12.1],[9.1,1.3],[7.8,0],[3.3,-.05],[.3,-2],[11.6,-5.7],[13.8,-9.2],[16.5,-10.5],[-7.5,-11.3],[-18.9,-8.6],[-18,-7.8],
[19.9,2.7],[17.4,1.9],[21.6,.8],[19.1,-1.6],[22,-1.4],[22.5,-3.5],[17.4,.8],[20.5,1.5],[21.8,-2.5],
[-80.3,-8],[-75.1,-11.5],[-73.9,-11.8],[-65.3,-10.6],[-66.6,-16.6],[-37.4,-17.3],[-55.1,-27],[-63.8,-29],[-60,-29.5],[-70.4,-29.3],[-70,-30.5],[-68.6,-31.8],[-70.9,-32],[-49.7,-28.6],[-44.9,-30.5],[-44,-26.9],[-33.6,-29.9],[-34.4,-35.2],[-64.3,-7.4],[-50.4,-6.4],[-48.7,-7.8],[-50.7,-8.2],[-27.1,-32.2],[-23.8,-32.2],[-23.1,-33.3],[-23.5,-34.9],[-21.6,-35.1],[-21.2,-31.8],[-22.3,-30.1],[-20.1,-29.3],[-19,-32.8],[-43.6,-38.8],[-45.3,-39.6],[-43.6,-40.1],[-18.4,-8.3],[-22.3,-15.8],
[16.5,-10.5],[17.3,-12.2],[19.2,-13.5],[19,-14.8],[18.2,-16.2],[18.2,-17.2],[24,-22.2],[25.4,-23.2],[23.3,-24.8],[27.1,-24.8],[28.6,-26],[28,-22.4],[32.7,-21.5],[31,-22.8],[31,-24.5],[24.2,-26.5],[24.3,-28.5],[25,-30.1],[25.9,-31.5],[25,-32.6],[28.4,-32.8],[27.1,-29.2],[30.1,-28.3],[31.8,-28],[32.7,-29.1],[31.8,-30.4],[32.5,-32.3],[30.1,-31.5],[29.7,-34.5],[31,-35.3],[33.1,-35.3],[34.4,-36.6],[35.2,-37.7],[25.9,-37.1],[28.8,-37.1],[23.5,-38.2],[24.6,-39.3],[26.7,-38.5],[28,-40.5],[28.8,-38.8],[26.7,-39.6],[-3.6,-24.9],[-1.4,-26],[-.6,-27.7],[2.1,-26.9],[2.4,-27.7],[2.7,-23.3],[4.7,-24.3],[2.4,-29.3],[4.1,-29.3],[3.7,-30.7],[3.7,-32.3],[5.8,-32.3],[5.4,-34.2],[5.4,-35.5],[7.5,-34.2],[8,-37.7],[5.8,-38.3],[8,-28.5],[10.3,-29.6],[9.2,-31.5],[10.1,-32.6],[7.5,-33.1],[12.6,-31.1],[13.9,-32],[13.5,-33.4],[16.1,-30.1],[16.9,-32],[15.6,-32.8],[16.3,-21.8],[5.8,-14.9],[29.3,-16.4],[40.4,-18.5],[-8.3,-31.4],[-19.1,-32.8],[-19.8,-29.3],[-7.6,-11.2],[-5.7,-12.8],
[38.4,27.9],[50.1,17.4],[55.4,17.4],[46.5,22.6],[26.5,24.5],[25.4,23.3],[28,23],[24.5,21.5],[29,21.9],[29.2,20.1],[24.3,19.7],[24.7,18.8],[26.7,11.7],[50,11.4],[51.8,9.4],[53.1,8.5],[50.6,7.8],[50.1,7],[59.8,8],[55.7,4.3],[25.4,-5.7],[58.2,-5.5],[60.6,-4.6],[59.5,-6.2],
[59.1,-5.3],[60.6,-4.5],[58.2,-5.6],[59.5,-6.4],[59.5,-7.8],[58.1,-8],[62.8,-8.3],[53.1,-12],[64.6,-15.7],[57.6,-21.3],[72.5,-13],[80.6,-16.5],[72.3,-24.2],[75.6,-30.9],[61.2,-33.1],[62.1,-34],[49.7,-17.5],[50.1,-17.2],[49.3,-18.3],[51,-17.5],[36.1,-7],[44.6,-11.5],[45.9,-11.6],[40.5,-18.4],[42.7,-17.7],[42.9,-18.8],[35,-37.6],
[-75.1,9.9],[-67.5,9.1],[-67.6,3.6],[-89.5,.5],[-64.5,.5],[-60,-1.1],[-57.6,1],[-56.8,4],[-58.1,2.9],[-55.5,2.5],[-51.2,5.1],[-47.4,3.5],[-47.4,.6],[-82.4,-.8],[-83.7,-1.6],[-84.8,-4.1],[-69.8,-5.7],[-64.2,-7.4],[-80.2,-8.1],[-65.3,-10.8],[-75.1,-11.6],[-73.9,-11.9],[-43.6,9.5],[-43.3,6.5],[-50.8,-5.9],[-49.5,-6.8],[-50.6,-8.4],[-48,-7.7],
[19,2],[20,-.5],[21,.5],[20.5,-2.5],[19,1],[21,-4],[23,-2.5],[18.5,.2],[25,-23],[26,-24],[24.5,-24.5],[28,-25],[26,-22.5],[25,-38.5],[27,-37.5],[27,-40.5],[25.5,-39.8],[28,-38],[29,-40],[26,-37.8],[30,-39],[24.5,-27.5],[26,-33],[27,-33],[31,-29],[32,-31],[31.5,-33],[30,-33.5],[4.5,-30.5],[5,-31.5],[6.5,-33.5],[4.5,-33.5],[6.5,-36],[7,-37],[9,-30.5],[9.5,-27.5],[2.5,-28.5],[16.5,-12],[18,-13],[18.6,-15.5],[-36.5,20.5],[-37,19]];

const series = [c0,c1,c2,c3,c4,c5,c6,c7,c8,c9];
const table = series.flatMap((pts, i) => pts.map(([x, y]) => ({x, y, label: classNames[i]})));
const minus = d => String(d).replace("-", "\u2212");

const chart = Plot.plot({
  width: 1000,
  height: 1000,
  marginLeft: 125,
  marginRight: 100,
  marginTop: 120,
  marginBottom: 110,
  x: {domain: [-108.4, 89.8]},
  y: {domain: [-55.6, 68.5]},
  color: {domain: classNames, range: palette},
  style: {fontFamily: "'DejaVu Sans'", background: "#fff", color: "#000"},
  marks: [
    Plot.dot(table, {x: "x", y: "y", fill: "label", r: 6, stroke: "none"}),
    Plot.frame({stroke: "#000", strokeWidth: 1.1, strokeOpacity: 1}),
    Plot.axisX({ticks: xTicks, tickFormat: minus, label: null, fontSize: 41.67, tickSize: 5, tickPadding: 8, stroke: "#000", strokeOpacity: 1, fill: "#000"}),
    Plot.axisY({ticks: yTicks, tickFormat: minus, label: null, fontSize: 41.67, tickSize: 5, tickPadding: 5, stroke: "#000", strokeOpacity: 1, fill: "#000"})
  ]
});
document.getElementById("chart").appendChild(chart);
</script>
</body>
</html>
